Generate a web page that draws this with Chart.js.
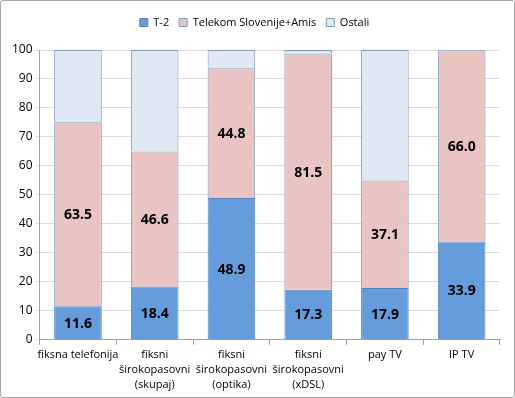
<!DOCTYPE html>
<html>
<head>
<meta charset="utf-8">
<script src="https://cdn.jsdelivr.net/npm/chart.js@4"></script>
<style>
  html, body { margin:0; padding:0; background:#fff; }
  #wrap { position:absolute; left:0; top:0; width:513px; height:396px; border:1px solid #a6a6a6; border-radius:3px; }
  canvas { display:block; }
</style>
</head>
<body>
<div id="wrap"><canvas id="chart" width="513" height="396"></canvas></div>
<script>
// data
let categories = [
    "fiksna telefonija",
    ["fiksni", "širokopasovni", "(skupaj)"],
    ["fiksni", "širokopasovni", "(optika)"],
    ["fiksni", "širokopasovni", "(xDSL)"],
    "pay TV",
    "IP TV"
];
let t2 = [11.6, 18.4, 48.9, 17.3, 17.9, 33.9];
let telekom = [63.5, 46.6, 44.8, 81.5, 37.1, 66.0];
let ostali = [24.9, 35.0, 6.3, 1.2, 45.0, 0.1];
let yTicks = [0, 10, 20, 30, 40, 50, 60, 70, 80, 90, 100];

const FONT = "'Open Sans', 'DejaVu Sans', sans-serif";

// draws the numbers inside T-2 and Telekom segments
const barLabels = {
    id: 'barLabels',
    afterDatasetsDraw(chart) {
        let ctx = chart.ctx;
        ctx.save();
        ctx.font = "bold 14px " + FONT;
        ctx.fillStyle = "#000";
        ctx.textAlign = "center";
        ctx.textBaseline = "middle";
        [0, 1].forEach(function(di) {
            let meta = chart.getDatasetMeta(di);
            meta.data.forEach(function(bar, i) {
                let v = chart.data.datasets[di].data[i];
                let y = (bar.y + bar.base) / 2 + 1;
                ctx.fillText(v.toFixed(1), bar.x, y);
            });
        });
        ctx.restore();
    }
};

// extra room under the legend
const legendGap = {
    id: 'legendGap',
    beforeInit(chart) {
        let fit = chart.legend.fit;
        chart.legend.fit = function() {
            fit.bind(chart.legend)();
            this.height += 12;
        };
    }
};

new Chart(document.getElementById("chart"), {
    type: 'bar',
    data: {
        labels: categories,
        datasets: [
            { label: "T-2", data: t2, backgroundColor: "#659cdb", borderColor: "#5582b8", borderWidth: 1 },
            { label: "Telekom Slovenije+Amis", data: telekom, backgroundColor: "#eac3c3", borderColor: "#7f96b6", borderWidth: 1 },
            { label: "Ostali", data: ostali, backgroundColor: "#dfe8f3", borderColor: "#7f96b6", borderWidth: 1 }
        ]
    },
    options: {
        responsive: false,
        animation: false,
        categoryPercentage: 0.62,
        barPercentage: 1.0,
        layout: { padding: { left: 8, right: 14, top: 6, bottom: 2 } },
        plugins: {
            legend: {
                position: 'top',
                labels: {
                    boxWidth: 8, boxHeight: 8,
                    font: { family: FONT, size: 11 },
                    color: "#000",
                    padding: 10
                }
            },
            tooltip: { enabled: false }
        },
        scales: {
            x: {
                stacked: true,
                grid: { drawOnChartArea: false, offset: true, tickLength: 5, color: "#a0a0a0" },
                border: { color: "#a0a0a0" },
                ticks: { font: { family: FONT, size: 11, lineHeight: 1.4 }, color: "#000", maxRotation: 0, autoSkip: false, padding: 2 }
            },
            y: {
                stacked: true,
                min: 0, max: 100,
                afterBuildTicks: function(axis) { axis.ticks = yTicks.map(function(v) { return { value: v }; }); },
                grid: { color: "#dcdcdc", tickLength: 4 },
                border: { color: "#a0a0a0" },
                ticks: { font: { family: FONT, size: 12 }, color: "#000", padding: 3 }
            }
        }
    },
    plugins: [barLabels, legendGap]
});
</script>
</body>
</html>
